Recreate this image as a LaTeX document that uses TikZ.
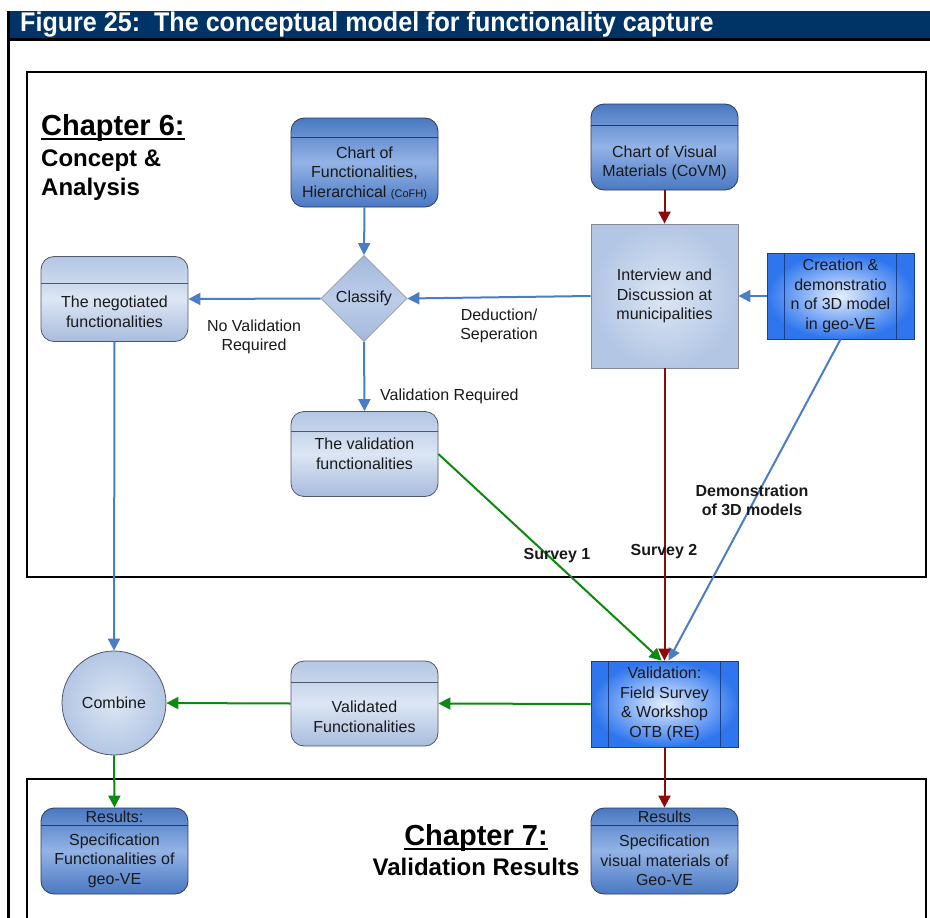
\documentclass[tikz,border=0pt]{standalone}
\usepackage{fontspec}
\setmainfont{Liberation Sans}
\newfontfamily\titlefont[FakeStretch=0.93]{Liberation Sans}
\usetikzlibrary{arrows.meta,shapes.geometric,calc}

\definecolor{navy}{HTML}{003366}
\definecolor{dkA}{HTML}{4A78C2}
\definecolor{dkB}{HTML}{93B3E6}
\definecolor{dkline}{HTML}{2E3B58}
\definecolor{ltA}{HTML}{B3C6E4}
\definecolor{ltB}{HTML}{DCE6F4}
\definecolor{ltC}{HTML}{A8BCDD}
\definecolor{ltline}{HTML}{4F5866}
\definecolor{dmA}{HTML}{A3B9DC}
\definecolor{dmB}{HTML}{BCCDE8}
\definecolor{prIn}{HTML}{E4EEFF}
\definecolor{prOut}{HTML}{2F76EE}
\definecolor{prline}{HTML}{1C3F86}
\definecolor{arrBlue}{HTML}{4A7EC4}
\definecolor{arrRed}{HTML}{8E0A0A}
\definecolor{arrGreen}{HTML}{0C8A10}

\tikzset{
  txt/.style={font=\fontsize{16}{19.5}\selectfont, align=center, text=black!90, inner sep=0pt},
  boldtxt/.style={txt, font=\bfseries\fontsize{16}{19}\selectfont},
  darkbox/.style={draw=dkline, line width=0.8pt, rounded corners=13pt,
    top color=dkA, bottom color=dkA, middle color=dkB,
    minimum width=147pt, minimum height=86pt, inner sep=0pt},
  lightbox/.style={draw=ltline, line width=0.8pt, rounded corners=13pt,
    top color=ltA, bottom color=ltC, middle color=ltB,
    minimum width=147pt, minimum height=86pt, inner sep=0pt},
  procbox/.style={draw=prline, line width=0.8pt, inner color=prIn, outer color=prOut,
    minimum width=147pt, minimum height=86pt, inner sep=0pt, txt},
  sepline/.style={line width=0.8pt},
  barrow/.style={draw=arrBlue, line width=2pt, -{Triangle[length=12pt,width=12pt]}, fill=arrBlue},
  rarrow/.style={draw=arrRed, line width=2pt, -{Triangle[length=12pt,width=12pt]}, fill=arrRed},
  garrow/.style={draw=arrGreen, line width=2pt, -{Triangle[length=12pt,width=12pt]}, fill=arrGreen},
  frame/.style={line width=2.5pt, black},
  heading/.style={inner sep=0pt, font=\bfseries\fontsize{29}{32}\selectfont},
  subheading/.style={inner sep=0pt, font=\bfseries\fontsize{24}{29}\selectfont},
}

\begin{document}
\begin{tikzpicture}[x=1pt,y=-1pt]
  \useasboundingbox (0,0) rectangle (930,918);
  \clip (0,0) rectangle (930,918);
  \fill[white] (0,0) rectangle (930,918);

  % title bar
  \fill[navy] (8,11) rectangle (930,38);
  \draw[line width=3pt] (8,39.5) -- (930,39.5);
  \draw[line width=3pt] (8,11) -- (8,930);
  \node[anchor=west, inner sep=0pt, text=white,
        font=\titlefont\bfseries\fontsize{27}{30}\selectfont] (title) at (20,24.5)
        {Figure 25:\ \ The conceptual model for functionality capture};

  % chapter frames
  \draw[frame] (27,72) rectangle (926,577);
  \draw[frame] (27,930) -- (27,779) -- (926,779) -- (926,930);

  % chapter headings
  \node[heading, anchor=base west] (ch6) at (41,135) {Chapter 6:};
  \draw[line width=2.5pt] ([yshift=-4pt]ch6.base west) -- ([yshift=-4pt]ch6.base east);
  \node[subheading, anchor=base west] (ch6a) at (41,166) {Concept \&};
  \node[subheading, anchor=base west] (ch6b) at (41,195) {Analysis};

  \node[heading, anchor=base] (ch7) at (476,845) {Chapter 7:};
  \draw[line width=2.5pt] ([yshift=-4pt]ch7.base west) -- ([yshift=-4pt]ch7.base east);
  \node[subheading, anchor=base] (ch7a) at (476,875) {Validation Results};

  % chart of functionalities
  \node[darkbox, minimum height=89pt] (cofh) at (364.5,162.5) {};
  \draw[sepline, draw=dkline] ($(cofh.north west)+(0,20)$) -- ($(cofh.north east)+(0,20)$);
  \node[txt] (cofht) at (364.5,173)
    {Chart of\\Functionalities,\\Hierarchical {\fontsize{11}{12}\selectfont (CoFH)}};

  % chart of visual materials
  \node[darkbox] (covm) at (664.5,147) {};
  \draw[sepline, draw=dkline] ($(covm.north west)+(0,22)$) -- ($(covm.north east)+(0,22)$);
  \node[txt] (covmt) at (664.5,163) {Chart of Visual\\Materials (CoVM)};

  % negotiated functionalities
  \node[lightbox, minimum height=85pt] (neg) at (114.5,299) {};
  \draw[sepline, draw=ltline] ($(neg.north west)+(0,27)$) -- ($(neg.north east)+(0,27)$);
  \node[txt] (negt) at (114.5,312) {The negotiated\\functionalities};

  % classify decision
  \node[diamond, draw=ltline!60, line width=0.8pt, top color=dmA, bottom color=dmA, middle color=dmB,
        minimum width=86pt, minimum height=86pt, inner sep=0pt, txt] (dia) at (364,298.5) {Classify};

  % interview box
  \node[draw=ltline!70, line width=0.8pt, inner color=ltB, outer color=ltA,
        minimum width=147pt, minimum height=144pt, inner sep=0pt, txt] (intv) at (664.5,296)
        {Interview and\\Discussion at\\municipalities};

  % creation of 3D model
  \node[procbox] (cre) at (840.5,296) {Creation \&\\demonstratio\\n of 3D model\\in geo-VE};
  \draw[sepline, draw=prline] ($(cre.north west)+(18,0)$) -- ($(cre.south west)+(18,0)$);
  \draw[sepline, draw=prline] ($(cre.north east)+(-18,0)$) -- ($(cre.south east)+(-18,0)$);

  % validation functionalities
  \node[lightbox, minimum height=85pt] (valf) at (364.5,454) {};
  \draw[sepline, draw=ltline] ($(valf.north west)+(0,20)$) -- ($(valf.north east)+(0,20)$);
  \node[txt] (valft) at (364.5,454) {The validation\\functionalities};

  % combine
  \node[circle, draw=ltline, line width=0.8pt, inner color=ltB, outer color=ltA,
        minimum size=104pt, inner sep=0pt, txt] (comb) at (114,703) {Combine};

  % validated functionalities
  \node[lightbox, minimum height=85pt] (vald) at (364.5,703.5) {};
  \draw[sepline, draw=ltline] ($(vald.north west)+(0,22)$) -- ($(vald.north east)+(0,22)$);
  \node[txt] (valdt) at (364.5,717) {Validated\\Functionalities};

  % validation field survey
  \node[procbox] (val) at (664.5,704) {Validation:\\Field Survey\\\& Workshop\\OTB (RE)};
  \draw[sepline, draw=prline] ($(val.north west)+(18,0)$) -- ($(val.south west)+(18,0)$);
  \draw[sepline, draw=prline] ($(val.north east)+(-18,0)$) -- ($(val.south east)+(-18,0)$);

  % results
  \node[darkbox] (resL) at (114.5,851) {};
  \draw[sepline, draw=dkline] ($(resL.north west)+(0,18)$) -- ($(resL.north east)+(0,18)$);
  \node[txt] (resLh) at (114.5,817) {Results:};
  \node[txt] (resLt) at (114.5,860.5) {Specification\\Functionalities of\\geo-VE};

  \node[darkbox] (resR) at (664.5,851) {};
  \draw[sepline, draw=dkline] ($(resR.north west)+(0,18)$) -- ($(resR.north east)+(0,18)$);
  \node[txt] (resRh) at (664.5,817) {Results};
  \node[txt] (resRt) at (664.5,860.5) {Specification\\visual materials of\\Geo-VE};

  % connectors
  \draw[barrow] (cofh.south) -- (dia.north);
  \draw[rarrow] (covm.south) -- (intv.north);
  \draw[barrow] (intv.west) -- (dia.east);
  \draw[barrow] (dia.west) -- (neg.east);
  \draw[barrow] (cre.west) -- (intv.east);
  \draw[barrow] (dia.south) -- (valf.north);
  \draw[barrow] (neg.south) -- (comb.north);
  \draw[garrow] (valf.east) -- ([xshift=-3pt]val.north);
  \draw[barrow] (cre.south) -- ([xshift=4pt]val.north);
  \draw[rarrow] (intv.south) -- (val.north);
  \draw[garrow] (val.west) -- (vald.east);
  \draw[garrow] (vald.west) -- (comb.east);
  \draw[garrow] (comb.south) -- (resL.north);
  \draw[rarrow] (val.south) -- (resR.north);

  % connector labels
  \node[txt] (lnoval) at (254,337) {No Validation\\Required};
  \node[txt] (lded) at (499,326) {Deduction/\\Seperation};
  \node[txt, anchor=west] (lvalreq) at (380,396) {Validation Required};
  \node[boldtxt] (ldemo) at (752,500) {Demonstration\\of 3D models};
  \node[boldtxt] (ls1) at (557,556) {Survey 1};
  \node[boldtxt] (ls2) at (664,552) {Survey 2};
\end{tikzpicture}
\end{document}
